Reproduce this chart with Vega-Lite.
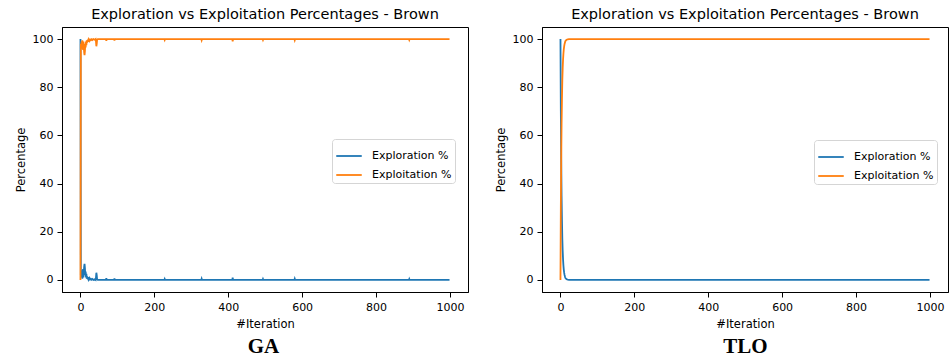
{
  "$schema": "https://vega.github.io/schema/vega-lite/v6.json",
  "padding": {"left": 14, "top": 6, "right": 2, "bottom": 0},
  "autosize": {"type": "pad"},
  "background": "white",
  "datasets": {
    "ga": [
      {"iteration": 0, "series": "Exploration %", "value": 100},
      {"iteration": 1, "series": "Exploration %", "value": 2},
      {"iteration": 2, "series": "Exploration %", "value": 4},
      {"iteration": 3, "series": "Exploration %", "value": 1},
      {"iteration": 4, "series": "Exploration %", "value": 3},
      {"iteration": 5, "series": "Exploration %", "value": 0.5},
      {"iteration": 6, "series": "Exploration %", "value": 2},
      {"iteration": 7, "series": "Exploration %", "value": 4.5},
      {"iteration": 8, "series": "Exploration %", "value": 1},
      {"iteration": 9, "series": "Exploration %", "value": 3},
      {"iteration": 10, "series": "Exploration %", "value": 5.5},
      {"iteration": 11, "series": "Exploration %", "value": 6.7},
      {"iteration": 12, "series": "Exploration %", "value": 5},
      {"iteration": 13, "series": "Exploration %", "value": 2},
      {"iteration": 14, "series": "Exploration %", "value": 3.5},
      {"iteration": 15, "series": "Exploration %", "value": 1},
      {"iteration": 16, "series": "Exploration %", "value": 2.5},
      {"iteration": 17, "series": "Exploration %", "value": 0.5},
      {"iteration": 18, "series": "Exploration %", "value": 1.5},
      {"iteration": 19, "series": "Exploration %", "value": 0.8},
      {"iteration": 20, "series": "Exploration %", "value": 0.3},
      {"iteration": 21, "series": "Exploration %", "value": 1.2},
      {"iteration": 22, "series": "Exploration %", "value": 0.2},
      {"iteration": 24, "series": "Exploration %", "value": 0.8},
      {"iteration": 26, "series": "Exploration %", "value": 0.2},
      {"iteration": 28, "series": "Exploration %", "value": 0.5},
      {"iteration": 30, "series": "Exploration %", "value": 0.1},
      {"iteration": 32, "series": "Exploration %", "value": 0.4},
      {"iteration": 35, "series": "Exploration %", "value": 0},
      {"iteration": 38, "series": "Exploration %", "value": 0.3},
      {"iteration": 41, "series": "Exploration %", "value": 0},
      {"iteration": 42, "series": "Exploration %", "value": 1},
      {"iteration": 43, "series": "Exploration %", "value": 3},
      {"iteration": 44, "series": "Exploration %", "value": 2},
      {"iteration": 45, "series": "Exploration %", "value": 0.3},
      {"iteration": 47, "series": "Exploration %", "value": 0},
      {"iteration": 69, "series": "Exploration %", "value": 0},
      {"iteration": 70, "series": "Exploration %", "value": 0.7},
      {"iteration": 71, "series": "Exploration %", "value": 0},
      {"iteration": 91, "series": "Exploration %", "value": 0},
      {"iteration": 92, "series": "Exploration %", "value": 0.6},
      {"iteration": 93, "series": "Exploration %", "value": 0},
      {"iteration": 227, "series": "Exploration %", "value": 0},
      {"iteration": 228, "series": "Exploration %", "value": 0.4},
      {"iteration": 229, "series": "Exploration %", "value": 0},
      {"iteration": 327, "series": "Exploration %", "value": 0},
      {"iteration": 328, "series": "Exploration %", "value": 0.5},
      {"iteration": 329, "series": "Exploration %", "value": 0},
      {"iteration": 411, "series": "Exploration %", "value": 0},
      {"iteration": 412, "series": "Exploration %", "value": 1},
      {"iteration": 413, "series": "Exploration %", "value": 0},
      {"iteration": 493, "series": "Exploration %", "value": 0},
      {"iteration": 494, "series": "Exploration %", "value": 0.4},
      {"iteration": 495, "series": "Exploration %", "value": 0},
      {"iteration": 579, "series": "Exploration %", "value": 0},
      {"iteration": 580, "series": "Exploration %", "value": 0.5},
      {"iteration": 581, "series": "Exploration %", "value": 0},
      {"iteration": 889, "series": "Exploration %", "value": 0},
      {"iteration": 890, "series": "Exploration %", "value": 0.4},
      {"iteration": 891, "series": "Exploration %", "value": 0},
      {"iteration": 999, "series": "Exploration %", "value": 0},
      {"iteration": 0, "series": "Exploitation %", "value": 0},
      {"iteration": 1, "series": "Exploitation %", "value": 98},
      {"iteration": 2, "series": "Exploitation %", "value": 96},
      {"iteration": 3, "series": "Exploitation %", "value": 99},
      {"iteration": 4, "series": "Exploitation %", "value": 97},
      {"iteration": 5, "series": "Exploitation %", "value": 99.5},
      {"iteration": 6, "series": "Exploitation %", "value": 98},
      {"iteration": 7, "series": "Exploitation %", "value": 95.5},
      {"iteration": 8, "series": "Exploitation %", "value": 99},
      {"iteration": 9, "series": "Exploitation %", "value": 97},
      {"iteration": 10, "series": "Exploitation %", "value": 94.5},
      {"iteration": 11, "series": "Exploitation %", "value": 93.3},
      {"iteration": 12, "series": "Exploitation %", "value": 95},
      {"iteration": 13, "series": "Exploitation %", "value": 98},
      {"iteration": 14, "series": "Exploitation %", "value": 96.5},
      {"iteration": 15, "series": "Exploitation %", "value": 99},
      {"iteration": 16, "series": "Exploitation %", "value": 97.5},
      {"iteration": 17, "series": "Exploitation %", "value": 99.5},
      {"iteration": 18, "series": "Exploitation %", "value": 98.5},
      {"iteration": 19, "series": "Exploitation %", "value": 99.2},
      {"iteration": 20, "series": "Exploitation %", "value": 99.7},
      {"iteration": 21, "series": "Exploitation %", "value": 98.8},
      {"iteration": 22, "series": "Exploitation %", "value": 99.8},
      {"iteration": 24, "series": "Exploitation %", "value": 99.2},
      {"iteration": 26, "series": "Exploitation %", "value": 99.8},
      {"iteration": 28, "series": "Exploitation %", "value": 99.5},
      {"iteration": 30, "series": "Exploitation %", "value": 99.9},
      {"iteration": 32, "series": "Exploitation %", "value": 99.6},
      {"iteration": 35, "series": "Exploitation %", "value": 100},
      {"iteration": 38, "series": "Exploitation %", "value": 99.7},
      {"iteration": 41, "series": "Exploitation %", "value": 100},
      {"iteration": 42, "series": "Exploitation %", "value": 99},
      {"iteration": 43, "series": "Exploitation %", "value": 97},
      {"iteration": 44, "series": "Exploitation %", "value": 98},
      {"iteration": 45, "series": "Exploitation %", "value": 99.7},
      {"iteration": 47, "series": "Exploitation %", "value": 100},
      {"iteration": 69, "series": "Exploitation %", "value": 100},
      {"iteration": 70, "series": "Exploitation %", "value": 99.3},
      {"iteration": 71, "series": "Exploitation %", "value": 100},
      {"iteration": 91, "series": "Exploitation %", "value": 100},
      {"iteration": 92, "series": "Exploitation %", "value": 99.4},
      {"iteration": 93, "series": "Exploitation %", "value": 100},
      {"iteration": 227, "series": "Exploitation %", "value": 100},
      {"iteration": 228, "series": "Exploitation %", "value": 99.6},
      {"iteration": 229, "series": "Exploitation %", "value": 100},
      {"iteration": 327, "series": "Exploitation %", "value": 100},
      {"iteration": 328, "series": "Exploitation %", "value": 99.5},
      {"iteration": 329, "series": "Exploitation %", "value": 100},
      {"iteration": 411, "series": "Exploitation %", "value": 100},
      {"iteration": 412, "series": "Exploitation %", "value": 99},
      {"iteration": 413, "series": "Exploitation %", "value": 100},
      {"iteration": 493, "series": "Exploitation %", "value": 100},
      {"iteration": 494, "series": "Exploitation %", "value": 99.6},
      {"iteration": 495, "series": "Exploitation %", "value": 100},
      {"iteration": 579, "series": "Exploitation %", "value": 100},
      {"iteration": 580, "series": "Exploitation %", "value": 99.5},
      {"iteration": 581, "series": "Exploitation %", "value": 100},
      {"iteration": 889, "series": "Exploitation %", "value": 100},
      {"iteration": 890, "series": "Exploitation %", "value": 99.6},
      {"iteration": 891, "series": "Exploitation %", "value": 100},
      {"iteration": 999, "series": "Exploitation %", "value": 100}
    ],
    "tlo": [
      {"iteration": 0, "series": "Exploration %", "value": 100},
      {"iteration": 1, "series": "Exploration %", "value": 70},
      {"iteration": 2, "series": "Exploration %", "value": 50},
      {"iteration": 3, "series": "Exploration %", "value": 35},
      {"iteration": 4, "series": "Exploration %", "value": 25},
      {"iteration": 5, "series": "Exploration %", "value": 17},
      {"iteration": 6, "series": "Exploration %", "value": 12},
      {"iteration": 7, "series": "Exploration %", "value": 8.5},
      {"iteration": 8, "series": "Exploration %", "value": 6},
      {"iteration": 9, "series": "Exploration %", "value": 4.2},
      {"iteration": 10, "series": "Exploration %", "value": 3},
      {"iteration": 11, "series": "Exploration %", "value": 2.1},
      {"iteration": 12, "series": "Exploration %", "value": 1.5},
      {"iteration": 13, "series": "Exploration %", "value": 1},
      {"iteration": 14, "series": "Exploration %", "value": 0.7},
      {"iteration": 15, "series": "Exploration %", "value": 0.5},
      {"iteration": 16, "series": "Exploration %", "value": 0.35},
      {"iteration": 18, "series": "Exploration %", "value": 0.18},
      {"iteration": 20, "series": "Exploration %", "value": 0.09},
      {"iteration": 23, "series": "Exploration %", "value": 0.03},
      {"iteration": 26, "series": "Exploration %", "value": 0.01},
      {"iteration": 30, "series": "Exploration %", "value": 0},
      {"iteration": 999, "series": "Exploration %", "value": 0},
      {"iteration": 0, "series": "Exploitation %", "value": 0},
      {"iteration": 1, "series": "Exploitation %", "value": 30},
      {"iteration": 2, "series": "Exploitation %", "value": 50},
      {"iteration": 3, "series": "Exploitation %", "value": 65},
      {"iteration": 4, "series": "Exploitation %", "value": 75},
      {"iteration": 5, "series": "Exploitation %", "value": 83},
      {"iteration": 6, "series": "Exploitation %", "value": 88},
      {"iteration": 7, "series": "Exploitation %", "value": 91.5},
      {"iteration": 8, "series": "Exploitation %", "value": 94},
      {"iteration": 9, "series": "Exploitation %", "value": 95.8},
      {"iteration": 10, "series": "Exploitation %", "value": 97},
      {"iteration": 11, "series": "Exploitation %", "value": 97.9},
      {"iteration": 12, "series": "Exploitation %", "value": 98.5},
      {"iteration": 13, "series": "Exploitation %", "value": 99},
      {"iteration": 14, "series": "Exploitation %", "value": 99.3},
      {"iteration": 15, "series": "Exploitation %", "value": 99.5},
      {"iteration": 16, "series": "Exploitation %", "value": 99.65},
      {"iteration": 18, "series": "Exploitation %", "value": 99.82},
      {"iteration": 20, "series": "Exploitation %", "value": 99.91},
      {"iteration": 23, "series": "Exploitation %", "value": 99.97},
      {"iteration": 26, "series": "Exploitation %", "value": 99.99},
      {"iteration": 30, "series": "Exploitation %", "value": 100},
      {"iteration": 999, "series": "Exploitation %", "value": 100}
    ]
  },
  "config": {
    "font": "DejaVu Sans",
    "view": {"stroke": "#000000", "strokeWidth": 1},
    "axis": {
      "grid": false,
      "domainColor": "#000000",
      "tickColor": "#000000",
      "labelColor": "#000000",
      "titleColor": "#000000",
      "labelFont": "DejaVu Sans",
      "titleFont": "DejaVu Sans",
      "labelFontSize": 11,
      "titleFontSize": 11.5,
      "titleFontWeight": "normal",
      "tickSize": 5,
      "labelPadding": 4,
      "domainWidth": 1,
      "tickWidth": 1
    },
    "axisX": {"titlePadding": 6},
    "axisY": {"titlePadding": 6},
    "title": {"font": "DejaVu Sans", "fontSize": 14.5, "fontWeight": "normal", "color": "#000000", "offset": 5},
    "legend": {
      "labelFont": "DejaVu Sans",
      "labelFontSize": 11,
      "labelColor": "#000000",
      "symbolType": "stroke",
      "symbolStrokeWidth": 1.8,
      "symbolSize": 650,
      "labelOffset": 9,
      "rowPadding": -3.5,
      "padding": 3,
      "fillColor": "#ffffff",
      "strokeColor": "#d5d5d5",
      "cornerRadius": 3
    },
    "concat": {"spacing": 25}
  },
  "resolve": {"scale": {"color": "independent"}, "legend": {"color": "independent"}},
  "hconcat": [
    {
      "title": {"text": "GA", "orient": "bottom", "anchor": "middle", "dx": 22, "font": "Liberation Serif", "fontSize": 21, "fontWeight": "bold", "color": "#000000", "offset": 6},
      "resolve": {"scale": {"color": "independent"}, "legend": {"color": "independent"}},
      "vconcat": [
        {
          "width": 406,
          "height": 265,
          "title": {"text": "Exploration vs Exploitation Percentages - Brown"},
          "data": {"name": "ga"},
          "mark": {"type": "line", "strokeWidth": 1.8},
          "encoding": {
            "x": {"field": "iteration", "type": "quantitative", "scale": {"domain": [-50, 1049], "nice": false, "zero": false}, "axis": {"title": "#Iteration", "values": [0, 200, 400, 600, 800, 1000], "format": "d"}},
            "y": {"field": "value", "type": "quantitative", "scale": {"domain": [-5, 105], "nice": false, "zero": false}, "axis": {"title": "Percentage", "values": [0, 20, 40, 60, 80, 100], "format": "d"}},
            "color": {"field": "series", "type": "nominal", "scale": {"domain": ["Exploration %", "Exploitation %"], "range": ["#1f77b4", "#ff7f0e"]}, "legend": {"title": null, "orient": "none", "legendX": 270, "legendY": 112}}
          }
        }
      ]
    },
    {
      "title": {"text": "TLO", "orient": "bottom", "anchor": "middle", "dx": 24, "font": "Liberation Serif", "fontSize": 21, "fontWeight": "bold", "color": "#000000", "offset": 6},
      "resolve": {"scale": {"color": "independent"}, "legend": {"color": "independent"}},
      "vconcat": [
        {
          "width": 406,
          "height": 265,
          "title": {"text": "Exploration vs Exploitation Percentages - Brown"},
          "data": {"name": "tlo"},
          "mark": {"type": "line", "strokeWidth": 1.8},
          "encoding": {
            "x": {"field": "iteration", "type": "quantitative", "scale": {"domain": [-50, 1049], "nice": false, "zero": false}, "axis": {"title": "#Iteration", "values": [0, 200, 400, 600, 800, 1000], "format": "d"}},
            "y": {"field": "value", "type": "quantitative", "scale": {"domain": [-5, 105], "nice": false, "zero": false}, "axis": {"title": "Percentage", "values": [0, 20, 40, 60, 80, 100], "format": "d"}},
            "color": {"field": "series", "type": "nominal", "scale": {"domain": ["Exploration %", "Exploitation %"], "range": ["#1f77b4", "#ff7f0e"]}, "legend": {"title": null, "orient": "none", "legendX": 272, "legendY": 113}}
          }
        }
      ]
    }
  ]
}
